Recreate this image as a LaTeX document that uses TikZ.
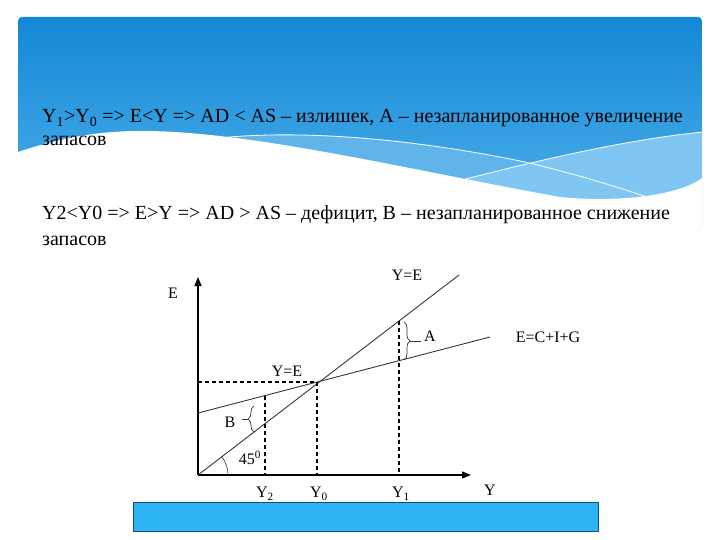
\documentclass[tikz,border=0pt]{standalone}
\usepackage{fontspec}
\setmainfont{Liberation Serif}
\usetikzlibrary{arrows.meta,decorations.pathreplacing}
\definecolor{hdtop}{RGB}{20,136,214}
\definecolor{hdbot}{RGB}{72,172,232}
\definecolor{bandA}{RGB}{96,180,234}
\definecolor{bandB}{RGB}{128,198,242}
\definecolor{barfill}{RGB}{44,180,245}
\definecolor{barline}{RGB}{30,72,120}
\definecolor{curve}{RGB}{55,55,55}
\tikzset{
  maintext/.style={anchor=base west,inner sep=0pt,font=\fontsize{20}{23}\selectfont},
  lbl/.style={inner sep=0pt,font=\fontsize{16}{18}\selectfont},
  axis/.style={line width=1.3pt,-{Triangle[length=9pt,width=7pt]}},
  curveline/.style={draw=curve,line width=0.9pt},
  dashline/.style={line width=1.3pt,dash pattern=on 4pt off 3pt},
  bracestyle/.style={draw=curve,line width=0.7pt,decorate,decoration={brace,amplitude=6pt}}
}
\begin{document}
\begin{tikzpicture}[x=1pt,y=-1pt]
\useasboundingbox (0,0) rectangle (720,540);
\fill[white] (0,0) rectangle (720,540);
% header
\begin{scope}
\clip[rounded corners=4pt] (18,17) rectangle (702,230);
\shade[top color=hdtop,bottom color=hdbot] (18,17) rectangle (702,200);
\fill[bandA] (210,139) .. controls (300,128) and (420,140) .. (525,162) .. controls (580,175) and (620,188) .. (650,198) -- (702,230) -- (210,230) -- cycle;
\fill[bandB] (450,183) .. controls (520,165) and (620,140) .. (703,132) -- (703,230) -- (450,230) -- cycle;
\fill[white] (18,152) .. controls (60,138) and (100,130) .. (150,131) .. controls (260,133) and (420,172) .. (560,197) .. controls (620,203) and (680,195) .. (702,178) -- (702,230) -- (18,230) -- cycle;
\draw[white,line width=0.8pt] (210,139) .. controls (300,128) and (420,140) .. (525,162) .. controls (580,175) and (620,188) .. (650,198);
\draw[white,line width=0.8pt] (450,183) .. controls (520,165) and (620,140) .. (703,132);
\end{scope}
% texts
\node[maintext] (t1) at (42,123) {Y\textsubscript{1}>Y\textsubscript{0} => E<Y => AD < AS – излишек, A – незапланированное увеличение};
\node[maintext] (t1b) at (42,146) {запасов};
\node[maintext] (t2) at (42,220) {Y2<Y0 => E>Y => AD > AS – дефицит, B – незапланированное снижение};
\node[maintext] (t2b) at (42,245) {запасов};
% chart
\coordinate (O) at (198,475);
\coordinate (ytip) at (198,277);
\coordinate (xtip) at (471,475);
\coordinate (yeEnd) at (459,275);
\coordinate (cigStart) at (198,413);
\coordinate (cigEnd) at (490,337);
\coordinate (P) at (317,382);
\coordinate (Pl) at (198,382);
\coordinate (P0) at (317,475);
\coordinate (a2) at (265,396);
\coordinate (b2) at (265,475);
\coordinate (a1) at (399,321);
\coordinate (b1) at (399,475);
\draw[axis] (O) -- (ytip);
\draw[axis] (O) -- (xtip);
\draw[curveline] (O) -- (yeEnd);
\draw[curveline] (cigStart) -- (cigEnd);
\draw[dashline] (Pl) -- (P);
\draw[dashline] (P) -- (P0);
\draw[dashline] (a2) -- (b2);
\draw[dashline] (a1) -- (b1);
\draw[curveline,line width=0.6pt] ([xshift=30pt]O) arc[start angle=0,end angle=-37.5,radius=30];
% braces
\coordinate (Aa) at (404,322);
\coordinate (Ab) at (404,360);
\draw[bracestyle] (Aa) -- (Ab);
\coordinate (Atip) at (410,341);
\coordinate (Adash) at (421,341);
\draw[curveline,line width=0.7pt] (Atip) -- (Adash);
\coordinate (Ba) at (254,432);
\coordinate (Bb) at (254,406);
\draw[bracestyle] (Ba) -- (Bb);
\coordinate (Btip) at (248,419);
\coordinate (Bdash) at (242,419);
\draw[curveline,line width=0.7pt] (Btip) -- (Bdash);
% labels
\node[lbl] (lE) at (173,293) {E};
\node[lbl] (lY) at (490,490) {Y};
\node[lbl] (lYE1) at (407,275) {Y=E};
\node[lbl] (lYE2) at (287,371) {Y=E};
\node[lbl] (lCIG) at (548,337) {E=C+I+G};
\node[lbl] (lA) at (430,336) {A};
\node[lbl] (lB) at (230,422) {B};
\node[lbl] (l45) at (250,458) {45\textsuperscript{0}};
\node[lbl] (lY2) at (265,494) {Y\textsubscript{2}};
\node[lbl] (lY0) at (319,494) {Y\textsubscript{0}};
\node[lbl] (lY1) at (401,494) {Y\textsubscript{1}};
% bottom bar
\node[draw=barline,fill=barfill,line width=1pt,minimum width=465pt,minimum height=29pt,inner sep=0pt,anchor=north west] (bar) at (133,502) {};
\end{tikzpicture}
\end{document}
